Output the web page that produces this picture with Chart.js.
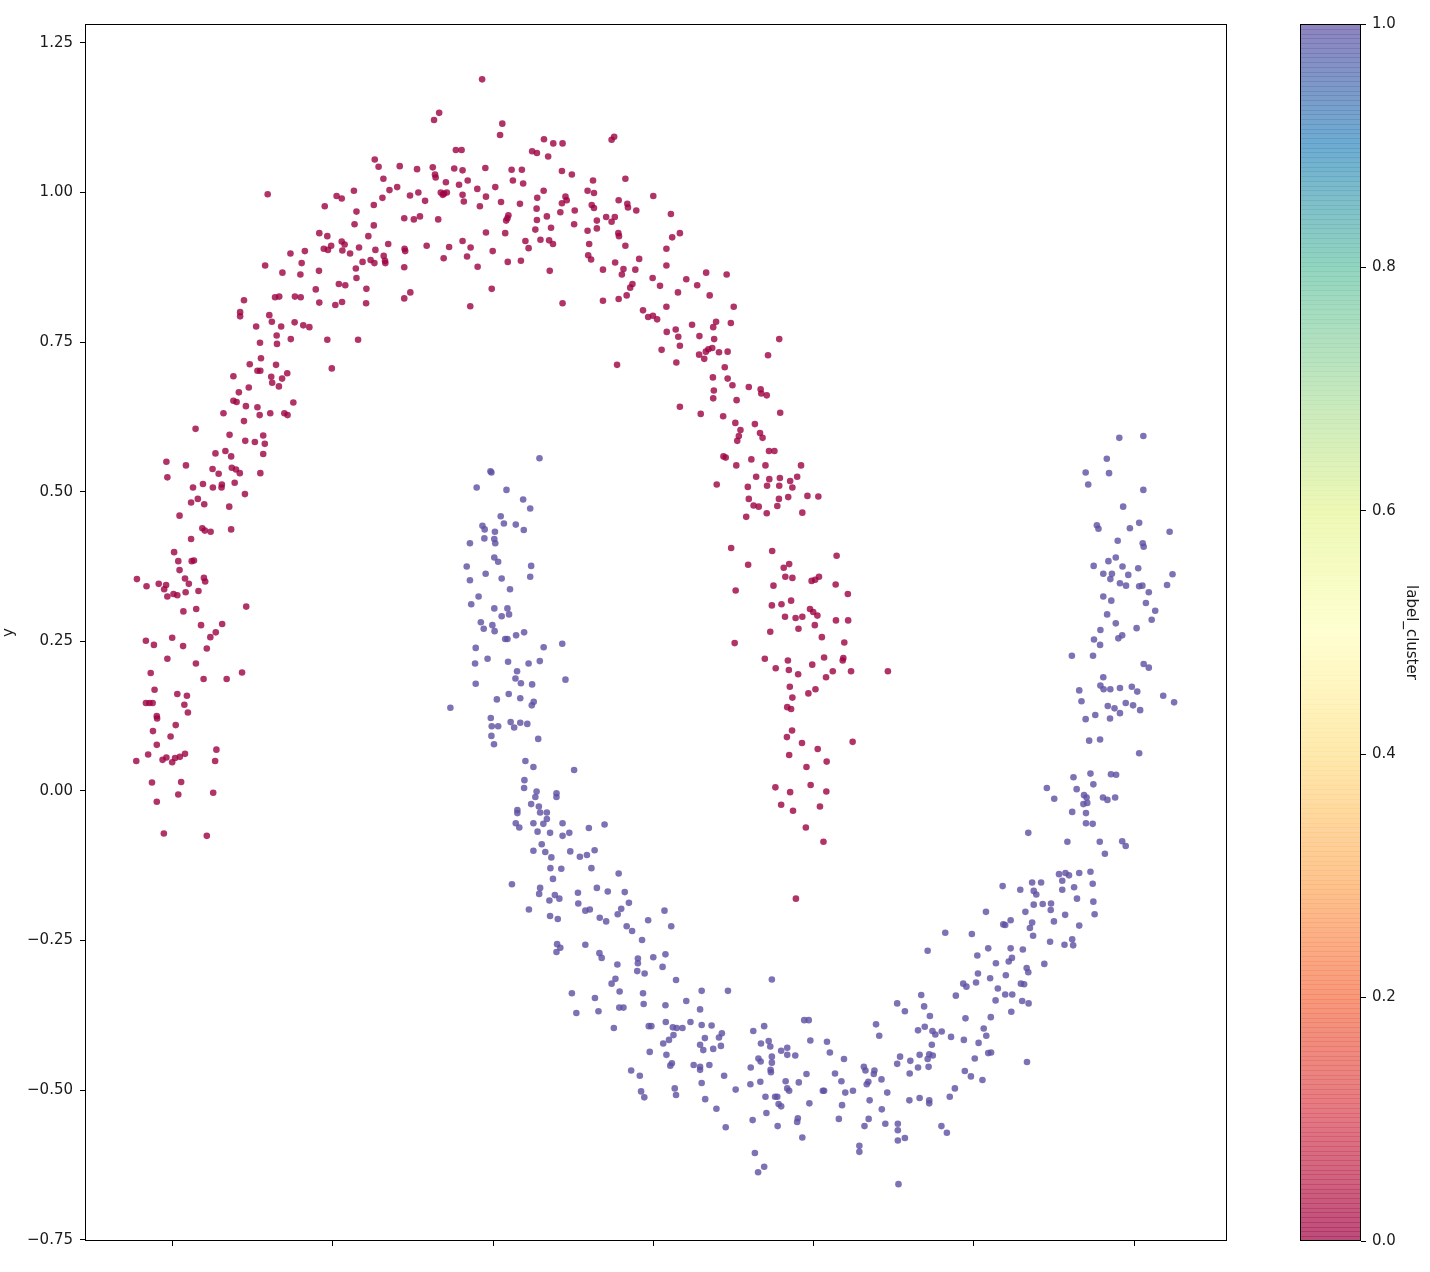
<!DOCTYPE html>
<html><head><meta charset="utf-8">
<script src="https://cdn.jsdelivr.net/npm/chart.js@4.4.1/dist/chart.umd.min.js"></script>
<style>
html,body{margin:0;padding:0;background:#fff;overflow:hidden;}
#wrap{position:relative;width:1430px;height:1272px;}
#main{position:absolute;left:0;top:0;}
#cbar{position:absolute;left:1240px;top:0;}
</style></head><body>
<div id="wrap"><canvas id="main" width="1430" height="1272"></canvas><canvas id="cbar" width="190" height="1272"></canvas></div>
<script>
// ---- data ----
const clusterLabels = [0, 1];
const cluster0Points = [
[-0.810,0.652],[-0.800,0.650],[-0.771,0.643],[-0.735,0.641],[-0.623,0.649],[-0.841,0.631],[-0.728,0.628],[-0.695,0.631],[-0.651,0.631],[-0.641,0.628],[-0.777,0.618],[-0.928,0.605],[-0.822,0.595],[-0.717,0.594],[-0.773,0.585],[-0.743,0.583],[-0.712,0.580],[-0.717,0.563],[-0.866,0.564],[-0.835,0.568],[-0.817,0.559],[-1.019,0.550],[-0.958,0.544],[-0.875,0.538],[-0.856,0.530],[-0.815,0.540],[-0.802,0.537],[-0.790,0.531],[-0.726,0.531],[-1.016,0.524],[-0.936,0.507],[-0.905,0.513],[-0.874,0.507],[-0.846,0.512],[-0.847,0.507],[-0.806,0.515],[-0.774,0.496],[-0.942,0.482],[-0.921,0.488],[-0.901,0.479],[-0.823,0.475],[-0.978,0.460],[-0.907,0.439],[-0.899,0.435],[-0.881,0.433],[-0.817,0.437],[-0.942,0.421],[-0.995,0.399],[-0.982,0.384],[-0.940,0.384],[-0.933,0.385],[-0.978,0.369],[-1.111,0.354],[-1.081,0.342],[-1.043,0.346],[-1.020,0.344],[-1.026,0.337],[-1.016,0.325],[-0.997,0.329],[-0.985,0.327],[-0.961,0.355],[-0.949,0.346],[-0.959,0.332],[-0.919,0.334],[-0.902,0.356],[-0.898,0.350],[-0.770,0.308],[-0.966,0.300],[-0.926,0.304],[-0.911,0.277],[-0.845,0.279],[-0.865,0.265],[-0.882,0.257],[-1.083,0.251],[-1.058,0.244],[-1.001,0.256],[-0.967,0.242],[-0.893,0.238],[-1.016,0.221],[-0.927,0.213],[-1.068,0.197],[-0.903,0.187],[-0.831,0.187],[-0.783,0.198],[-1.056,0.169],[-0.985,0.162],[-0.955,0.159],[-0.963,0.144],[-0.952,0.131],[-1.083,0.147],[-1.072,0.147],[-1.062,0.147],[-1.049,0.125],[-1.048,0.121],[-0.990,0.110],[-1.061,0.100],[-1.006,0.091],[-1.049,0.077],[-0.863,0.069],[-1.076,0.061],[-1.113,0.050],[-1.031,0.052],[-1.019,0.056],[-1.001,0.048],[-0.992,0.055],[-0.977,0.057],[-0.961,0.062],[-0.867,0.050],[-1.064,0.014],[-0.973,0.015],[-0.982,-0.006],[-0.873,-0.003],[-1.049,-0.018],[-1.027,-0.071],[-0.893,-0.075],
[-0.793,0.666],[-0.369,1.055],[-0.357,1.043],[-0.291,1.044],[-0.237,1.039],[-0.342,1.023],[-0.703,0.997],[-0.488,0.994],[-0.472,0.990],[-0.434,1.003],[-0.323,1.004],[-0.299,1.009],[-0.259,0.995],[-0.233,1.000],[-0.345,0.991],[-0.525,0.977],[-0.426,0.968],[-0.372,0.979],[-0.277,0.957],[-0.247,0.955],[-0.228,0.960],[-0.432,0.947],[-0.372,0.945],[-0.542,0.932],[-0.517,0.927],[-0.472,0.918],[-0.463,0.913],[-0.389,0.927],[-0.327,0.914],[-0.505,0.911],[-0.528,0.906],[-0.515,0.904],[-0.470,0.903],[-0.446,0.898],[-0.418,0.908],[-0.367,0.904],[-0.341,0.894],[-0.337,0.886],[-0.336,0.882],[-0.276,0.906],[-0.274,0.902],[-0.632,0.898],[-0.587,0.902],[-0.597,0.882],[-0.711,0.878],[-0.657,0.866],[-0.601,0.863],[-0.543,0.869],[-0.407,0.884],[-0.382,0.887],[-0.370,0.882],[-0.277,0.875],[-0.428,0.873],[-0.426,0.857],[-0.481,0.847],[-0.461,0.845],[-0.553,0.838],[-0.395,0.839],[-0.258,0.833],[-0.277,0.823],[-0.777,0.820],[-0.680,0.825],[-0.667,0.826],[-0.618,0.826],[-0.600,0.825],[-0.542,0.816],[-0.492,0.812],[-0.471,0.817],[-0.396,0.815],[-0.789,0.800],[-0.789,0.793],[-0.698,0.795],[-0.690,0.784],[-0.739,0.776],[-0.661,0.776],[-0.619,0.783],[-0.592,0.778],[-0.573,0.775],[-0.675,0.761],[-0.727,0.749],[-0.674,0.747],[-0.631,0.755],[-0.517,0.754],[-0.421,0.754],[-0.724,0.723],[-0.759,0.713],[-0.677,0.712],[-0.735,0.702],[-0.726,0.702],[-0.503,0.706],[-0.810,0.693],[-0.692,0.692],[-0.689,0.682],[-0.658,0.689],[-0.642,0.698],[-0.668,0.676],[-0.762,0.674],
[-0.034,1.189],[-0.168,1.133],[-0.184,1.121],[0.029,1.115],[0.022,1.096],[0.370,1.088],[0.378,1.093],[0.159,1.089],[0.188,1.082],[0.217,1.082],[0.122,1.069],[0.137,1.066],[0.172,1.060],[-0.116,1.071],[-0.098,1.071],[-0.188,1.042],[-0.181,1.030],[-0.179,1.025],[-0.121,1.040],[-0.095,1.037],[-0.024,1.041],[0.058,1.038],[0.090,1.038],[0.215,1.036],[0.246,1.030],[0.312,1.020],[0.413,1.023],[-0.147,1.017],[-0.106,1.013],[-0.079,1.020],[-0.049,1.006],[0.007,1.009],[0.062,1.020],[0.094,1.015],[-0.212,0.986],[-0.163,1.000],[-0.153,0.998],[-0.144,1.000],[-0.157,0.996],[-0.095,0.996],[-0.091,0.985],[-0.022,0.993],[-0.041,0.977],[0.025,0.984],[0.084,0.981],[0.138,0.991],[0.158,1.003],[0.226,0.993],[0.230,0.987],[0.215,0.982],[0.295,1.003],[0.315,0.999],[0.392,0.987],[0.500,0.994],[0.136,0.973],[0.255,0.970],[0.210,0.967],[0.308,0.979],[0.315,0.974],[0.419,0.981],[0.421,0.975],[0.447,0.970],[0.555,0.964],[-0.171,0.955],[0.048,0.962],[0.041,0.953],[0.045,0.957],[0.137,0.954],[0.168,0.960],[0.253,0.947],[0.324,0.953],[0.353,0.959],[0.370,0.951],[0.380,0.959],[0.132,0.938],[0.181,0.941],[0.295,0.936],[0.324,0.940],[0.391,0.932],[0.393,0.927],[0.559,0.925],[-0.022,0.933],[0.038,0.932],[-0.207,0.911],[-0.137,0.909],[-0.095,0.919],[-0.070,0.908],[-0.001,0.902],[-0.081,0.893],[-0.154,0.890],[-0.048,0.876],[0.046,0.884],[0.087,0.886],[0.101,0.919],[0.111,0.907],[0.148,0.921],[0.175,0.920],[0.187,0.914],[0.300,0.914],[0.413,0.911],[0.541,0.906],[0.297,0.895],[0.306,0.888],[0.381,0.883],[0.456,0.889],[0.177,0.869],[0.343,0.871],[0.407,0.872],[0.402,0.863],[0.444,0.871],[0.541,0.878],[0.498,0.857],[0.521,0.844],[-0.004,0.839],[-0.071,0.810],[0.217,0.815],[0.343,0.819],[0.392,0.822],[0.417,0.828],[0.428,0.841],[0.435,0.847],[0.468,0.803],[0.484,0.792],[0.499,0.794],[0.512,0.788],[0.541,0.809],[0.577,0.833],[0.542,0.767],[0.570,0.771],[0.578,0.759],[0.526,0.737],[0.572,0.716],[0.387,0.712],[0.583,0.932],
[0.665,0.866],[0.729,0.863],[0.603,0.855],[0.637,0.845],[0.676,0.828],[0.751,0.809],[0.621,0.779],[0.687,0.775],[0.696,0.784],[0.742,0.782],[0.644,0.760],[0.690,0.755],[0.893,0.755],[0.583,0.744],[0.643,0.729],[0.659,0.722],[0.664,0.734],[0.672,0.738],[0.684,0.740],[0.705,0.733],[0.732,0.734],[0.858,0.728],[0.723,0.708],[0.686,0.691],[0.732,0.689],[0.747,0.678],[0.798,0.675],[0.689,0.669],[0.687,0.656],[0.760,0.653],[0.835,0.671],[0.837,0.664],[0.854,0.661],[0.583,0.642],[0.648,0.630],[0.718,0.626],[0.896,0.632],[0.756,0.615],[0.817,0.613],[0.772,0.603],[0.833,0.598],[0.767,0.593],[0.841,0.590],[0.762,0.585],[0.861,0.568],[0.878,0.568],[0.719,0.559],[0.726,0.557],[0.806,0.554],[0.759,0.544],[0.850,0.544],[0.961,0.544],[0.698,0.512],[0.821,0.525],[0.862,0.521],[0.895,0.523],[0.927,0.518],[0.949,0.525],[0.795,0.508],[0.855,0.510],[0.893,0.510],[0.934,0.507],[0.798,0.488],[0.892,0.488],[0.921,0.491],[0.981,0.493],[1.015,0.492],[0.813,0.477],[0.829,0.475],[0.887,0.476],[0.854,0.464],[0.965,0.465],[0.790,0.458],[0.743,0.406],[0.871,0.401],[1.072,0.393],
[0.796,0.378],[0.907,0.373],[0.924,0.379],[0.912,0.358],[0.934,0.356],[0.994,0.351],[1.005,0.353],[1.017,0.358],[0.757,0.335],[0.875,0.343],[1.069,0.345],[1.107,0.329],[0.870,0.310],[0.900,0.312],[0.930,0.318],[0.989,0.304],[0.999,0.299],[1.012,0.293],[0.911,0.291],[0.944,0.289],[0.965,0.291],[1.070,0.285],[1.108,0.285],[0.865,0.266],[0.953,0.271],[1.004,0.277],[1.026,0.257],[0.754,0.247],[1.096,0.248],[0.848,0.221],[0.920,0.218],[0.882,0.205],[0.923,0.202],[0.952,0.195],[0.996,0.211],[1.033,0.223],[1.039,0.190],[1.060,0.200],[1.091,0.218],[1.093,0.222],[1.117,0.200],[1.232,0.200],[0.926,0.174],[0.934,0.156],[0.984,0.163],[1.006,0.170],[0.918,0.140],[0.930,0.137],[0.933,0.101],[0.917,0.090],[0.964,0.080],[1.013,0.070],[1.122,0.082],[0.924,0.060],[1.041,0.049],[0.978,0.040],[0.881,0.006],[0.927,-0.002],[0.991,0.010],[1.040,-0.001],[0.899,-0.023],[0.936,-0.033],[1.020,-0.026],[0.976,-0.061],[1.031,-0.085],[0.945,-0.180]
];
const cluster1Points = [
[0.145,0.556],[-0.008,0.534],[-0.005,0.532],[-0.051,0.507],[0.042,0.503],[0.094,0.487],[0.116,0.472],[0.024,0.459],[0.034,0.447],[0.071,0.445],[0.096,0.436],[-0.033,0.443],[-0.026,0.437],[0.006,0.433],[-0.072,0.414],[-0.027,0.422],[0.004,0.421],[0.007,0.414],[0.004,0.390],[0.016,0.383],[-0.082,0.375],[0.119,0.376],[-0.023,0.363],[0.027,0.355],[0.116,0.358],[-0.072,0.352],[0.053,0.337],[-0.045,0.325],[-0.068,0.312],[0.004,0.305],[0.045,0.305],[0.050,0.295],[0.027,0.292],[-0.038,0.282],[-0.029,0.271],[-0.002,0.277],[0.005,0.267],[0.038,0.254],[0.045,0.254],[0.072,0.260],[0.097,0.265],[-0.054,0.239],[0.158,0.240],[0.216,0.246],[-0.056,0.213],[-0.017,0.221],[0.047,0.216],[0.111,0.213],[0.146,0.217],[0.075,0.200],[0.070,0.188],[0.087,0.180],[0.122,0.178],[0.226,0.186],[-0.054,0.179],[0.012,0.153],[0.049,0.162],[0.085,0.155],[0.127,0.149],[0.121,0.143],[-0.133,0.139],[-0.007,0.122],[-0.004,0.108],[0.016,0.108],[0.055,0.115],[0.066,0.106],[0.085,0.114],[0.107,0.112],[-0.005,0.092],[0.003,0.078],[0.141,0.087],[0.101,0.050],[0.126,0.040],[0.253,0.035],[0.098,0.018],[0.097,0.005],[0.136,-0.001],[0.132,-0.010],[0.198,-0.004],[0.198,-0.010],
[0.119,-0.022],[0.143,-0.026],[0.147,-0.036],[0.168,-0.036],[0.076,-0.032],[0.076,-0.037],[0.071,-0.054],[0.082,-0.061],[0.126,-0.054],[0.157,-0.055],[0.168,-0.047],[0.139,-0.068],[0.178,-0.070],[0.217,-0.054],[0.217,-0.075],[0.238,-0.070],[0.299,-0.062],[0.348,-0.056],[0.152,-0.089],[0.126,-0.100],[0.163,-0.102],[0.182,-0.111],[0.241,-0.101],[0.271,-0.110],[0.293,-0.107],[0.317,-0.099],[0.179,-0.129],[0.213,-0.130],[0.307,-0.129],[0.392,-0.138],[0.187,-0.147],[0.059,-0.156],[0.147,-0.162],[0.144,-0.172],[0.176,-0.183],[0.193,-0.174],[0.207,-0.180],[0.265,-0.170],[0.266,-0.188],[0.288,-0.200],[0.302,-0.198],[0.324,-0.162],[0.358,-0.168],[0.411,-0.169],[0.424,-0.187],[0.400,-0.197],[0.389,-0.206],[0.112,-0.198],[0.178,-0.209],[0.202,-0.214],[0.333,-0.212],[0.353,-0.218],[0.484,-0.216],[0.535,-0.200],[0.556,-0.226],[0.417,-0.226],[0.434,-0.234],[0.465,-0.249],[0.200,-0.256],[0.210,-0.262],[0.198,-0.269],[0.288,-0.257],[0.332,-0.271],[0.339,-0.279],[0.388,-0.290],[0.452,-0.280],[0.452,-0.288],[0.450,-0.301],[0.473,-0.305],[0.500,-0.278],[0.538,-0.273],[0.529,-0.294],[0.571,-0.316],[0.382,-0.314],[0.370,-0.322],[0.246,-0.338],[0.395,-0.335],[0.468,-0.338],[0.318,-0.346],[0.260,-0.371],[0.329,-0.368],[0.394,-0.362],[0.407,-0.362],[0.470,-0.356],[0.538,-0.358],[0.603,-0.351],[0.377,-0.396],[0.486,-0.393],[0.494,-0.393],[0.539,-0.386],[0.561,-0.395],[0.573,-0.396],[0.591,-0.396],[0.616,-0.386],[0.563,-0.408],[0.549,-0.416],[0.531,-0.422],[0.489,-0.436],[0.541,-0.441],[0.558,-0.455],[0.553,-0.459],[0.626,-0.458],[0.431,-0.467],[0.458,-0.476],[0.462,-0.502],[0.472,-0.512],[0.567,-0.497],[0.571,-0.508],
[0.870,-0.315],[0.651,-0.334],[0.733,-0.334],[0.646,-0.365],[0.651,-0.391],[0.682,-0.392],[0.646,-0.424],[0.656,-0.433],[0.661,-0.413],[0.687,-0.431],[0.705,-0.412],[0.714,-0.405],[0.711,-0.426],[0.646,-0.461],[0.646,-0.466],[0.675,-0.458],[0.651,-0.488],[0.721,-0.476],[0.662,-0.515],[0.697,-0.531],[0.726,-0.562],[0.757,-0.499],[0.812,-0.401],[0.846,-0.393],[0.836,-0.422],[0.860,-0.418],[0.865,-0.427],[0.828,-0.447],[0.835,-0.452],[0.870,-0.444],[0.870,-0.454],[0.866,-0.466],[0.867,-0.470],[0.804,-0.462],[0.803,-0.490],[0.834,-0.486],[0.850,-0.511],[0.880,-0.511],[0.887,-0.511],[0.891,-0.523],[0.899,-0.527],[0.853,-0.538],[0.810,-0.550],[0.888,-0.560],[0.899,-0.434],[0.918,-0.429],[0.918,-0.441],[0.943,-0.442],[0.913,-0.485],[0.918,-0.497],[0.924,-0.501],[0.954,-0.487],[0.978,-0.473],[0.971,-0.383],[0.985,-0.383],[0.990,-0.417],[0.987,-0.522],[0.951,-0.547],[0.949,-0.553],[0.965,-0.579],[0.817,-0.605],[0.846,-0.628],[0.827,-0.637],[1.029,-0.501],[1.033,-0.501],[1.042,-0.419],[1.051,-0.437],[1.095,-0.448],[1.067,-0.472],[1.087,-0.485],[1.099,-0.504],[1.123,-0.501],[1.089,-0.525],[1.079,-0.548],[1.157,-0.461],[1.162,-0.467],[1.190,-0.467],[1.188,-0.473],[1.212,-0.482],[1.171,-0.486],[1.166,-0.490],[1.175,-0.517],[1.230,-0.504],[1.213,-0.532],[1.172,-0.548],[1.159,-0.560],[1.224,-0.556],[1.143,-0.593],[1.143,-0.603],[1.195,-0.390],[1.205,-0.409],[1.261,-0.355],[1.261,-0.456],[1.270,-0.444],[1.263,-0.556],[1.263,-0.567],[1.263,-0.584],[1.265,-0.657],
[1.590,-0.159],[1.645,-0.165],[1.682,-0.153],[1.687,-0.167],[1.695,-0.173],[1.710,-0.153],[1.776,-0.150],[1.776,-0.165],[1.813,-0.161],[1.871,-0.155],[1.538,-0.202],[1.661,-0.202],[1.687,-0.190],[1.715,-0.189],[1.741,-0.188],[1.740,-0.199],[1.785,-0.207],[1.822,-0.180],[1.873,-0.185],[1.877,-0.206],[1.592,-0.223],[1.598,-0.224],[1.615,-0.216],[1.682,-0.220],[1.675,-0.229],[1.685,-0.242],[1.750,-0.218],[1.829,-0.225],[1.411,-0.237],[1.494,-0.239],[1.738,-0.252],[1.783,-0.257],[1.807,-0.248],[1.810,-0.258],[1.356,-0.267],[1.545,-0.263],[1.511,-0.275],[1.615,-0.263],[1.653,-0.265],[1.609,-0.285],[1.619,-0.279],[1.569,-0.288],[1.720,-0.289],[1.665,-0.296],[1.670,-0.303],[1.513,-0.305],[1.551,-0.313],[1.600,-0.308],[1.467,-0.322],[1.477,-0.327],[1.507,-0.320],[1.647,-0.322],[1.657,-0.323],[1.575,-0.330],[1.444,-0.342],[1.598,-0.340],[1.620,-0.340],[1.568,-0.350],[1.651,-0.351],[1.671,-0.355],[1.336,-0.341],[1.285,-0.368],[1.345,-0.360],[1.363,-0.376],[1.617,-0.369],[1.474,-0.380],[1.553,-0.378],[1.531,-0.397],[1.539,-0.409],[1.326,-0.400],[1.347,-0.394],[1.371,-0.401],[1.380,-0.407],[1.400,-0.402],[1.429,-0.411],[1.469,-0.416],[1.515,-0.421],[1.369,-0.424],[1.361,-0.440],[1.372,-0.442],[1.356,-0.448],[1.331,-0.441],[1.302,-0.451],[1.326,-0.462],[1.359,-0.461],[1.300,-0.472],[1.503,-0.447],[1.545,-0.438],[1.554,-0.437],[1.666,-0.453],[1.472,-0.468],[1.491,-0.477],[1.527,-0.483],[1.441,-0.497],[1.425,-0.511],[1.299,-0.517],[1.331,-0.513],[1.361,-0.517],[1.361,-0.522],[1.399,-0.560],[1.416,-0.571],[1.285,-0.580],
[1.860,0.084],[1.894,0.086],[2.016,0.063],[1.811,0.023],[1.864,0.029],[1.928,0.028],[1.944,0.027],[1.873,0.011],[1.728,0.005],[1.821,0.003],[1.844,-0.007],[1.852,-0.011],[1.751,-0.013],[1.903,-0.011],[1.917,-0.015],[1.941,-0.011],[1.842,-0.022],[1.854,-0.020],[1.807,-0.035],[1.850,-0.037],[1.850,-0.054],[1.871,-0.055],[1.670,-0.070],[1.792,-0.085],[1.893,-0.085],[1.963,-0.084],[1.974,-0.092],[1.909,-0.105],[1.766,-0.139],[1.786,-0.137],[1.797,-0.141],[1.829,-0.137],[1.864,-0.135],
[1.954,0.590],[2.029,0.593],[1.915,0.555],[1.849,0.532],[1.922,0.531],[1.857,0.512],[2.029,0.503],[1.966,0.475],[1.884,0.444],[1.889,0.438],[1.987,0.439],[2.016,0.448],[2.111,0.433],[1.949,0.418],[2.027,0.414],[2.030,0.408],[1.874,0.376],[1.920,0.384],[1.943,0.390],[1.964,0.375],[2.013,0.372],[1.904,0.363],[1.931,0.363],[1.926,0.354],[1.982,0.361],[2.120,0.362],[1.956,0.347],[1.975,0.343],[2.016,0.342],[2.026,0.343],[2.046,0.332],[2.103,0.344],[1.904,0.325],[1.929,0.318],[2.037,0.314],[2.066,0.301],[1.916,0.295],[1.943,0.280],[2.055,0.286],[1.895,0.269],[2.008,0.272],[1.875,0.253],[1.894,0.244],[1.951,0.255],[1.963,0.260],[1.806,0.226],[1.872,0.226],[2.030,0.212],[2.046,0.206],[1.904,0.190],[1.829,0.168],[1.836,0.150],[1.895,0.176],[1.905,0.170],[1.926,0.170],[1.956,0.172],[1.993,0.174],[2.010,0.166],[2.091,0.159],[2.125,0.148],[1.918,0.142],[1.939,0.138],[1.974,0.147],[1.997,0.143],[2.019,0.135],[1.879,0.127],[1.925,0.121],[1.849,0.120],[1.956,0.130]
];
const xTicks = [-1, -0.5, 0, 0.5, 1, 1.5, 2];
const yTicks = [-0.75, -0.5, -0.25, 0, 0.25, 0.5, 0.75, 1.0, 1.25];
const colorbarTicks = [0, 0.2, 0.4, 0.6, 0.8, 1.0];
const xLimits = [-1.273, 2.290];
const yLimits = [-0.752, 1.2815];
const spectralStops = ['#9e0142','#d53e4f','#f46d43','#fdae61','#fee08b','#ffffbf','#e6f598','#abdda4','#66c2a5','#3288bd','#5e4fa2'];

// ---- styling ----
const pointAlpha = 0.8, barAlpha = 0.7;
Chart.defaults.font.family = "'DejaVu Sans', sans-serif";
Chart.defaults.font.size = 15;
Chart.defaults.color = '#1a1a1a';

function hexA(h, a){ const n=parseInt(h.slice(1),16); return `rgba(${(n>>16)&255},${(n>>8)&255},${n&255},${a})`; }
function cmap(t, a){ // Spectral colour at t in [0,1]
  const s = t*(spectralStops.length-1), i = Math.min(Math.floor(s), spectralStops.length-2), f = s-i;
  const p = parseInt(spectralStops[i].slice(1),16), q = parseInt(spectralStops[i+1].slice(1),16);
  const c = k => Math.round(((p>>k)&255)*(1-f) + ((q>>k)&255)*f);
  return `rgba(${c(16)},${c(8)},${c(0)},${a})`;
}
const fmtY = v => (v < 0 ? '\u2212' + Math.abs(v).toFixed(2) : v.toFixed(2));
const toXY = arr => arr.map(p => ({x:p[0], y:p[1]}));

const frame = { id:'frame', afterDraw(chart){
  const a = chart.chartArea, c = chart.ctx; c.save();
  c.strokeStyle = '#000'; c.lineWidth = 1;
  c.strokeRect(a.left+0.5, a.top+0.5, a.right-a.left-1, a.bottom-a.top-1);
  c.restore(); } };

new Chart(document.getElementById('main'), {
  type:'scatter',
  data:{ datasets: clusterLabels.map((lab, i) => ({
    label: String(lab),
    data: toXY(i === 0 ? cluster0Points : cluster1Points),
    backgroundColor: cmap(lab, pointAlpha),
    pointRadius: 3.3, borderWidth: 0, pointHoverRadius: 3.3
  })) },
  options:{
    responsive:false, animation:false, devicePixelRatio:1,
    layout:{ padding:{ left:0, top:24, right:203, bottom:25 } },
    plugins:{ legend:{display:false}, tooltip:{enabled:false} },
    scales:{
      x:{ type:'linear', min:xLimits[0], max:xLimits[1],
          afterBuildTicks: s => { s.ticks = xTicks.map(v => ({value:v})); },
          afterFit: s => { s.height = 6; },
          grid:{ drawOnChartArea:false, tickLength:5, color:'#000', lineWidth:1 },
          border:{ display:false },
          ticks:{ callback: () => '' } },
      y:{ type:'linear', min:yLimits[0], max:yLimits[1],
          afterBuildTicks: s => { s.ticks = yTicks.map(v => ({value:v})); },
          afterFit: s => { s.width = 85; },
          grid:{ drawOnChartArea:false, tickLength:5, color:'#000', lineWidth:1 },
          border:{ display:false },
          ticks:{ padding:7, callback: v => fmtY(v) },
          title:{ display:true, text:'y', padding:0 } }
    }
  },
  plugins:[frame]
});

function cbGradient(chart, a){
  const ca = chart.chartArea; if(!ca) return null;
  const g = chart.ctx.createLinearGradient(0, ca.bottom, 0, ca.top);
  for(let k=0;k<=40;k++){ g.addColorStop(k/40, cmap(k/40, a)); }
  return g;
}
const cbStripes = { id:'cbStripes', afterDatasetsDraw(chart){
  const a = chart.chartArea, c = chart.ctx, n = 256, h = (a.bottom-a.top)/n;
  c.save(); c.fillStyle = cbGradient(chart, 0.35);
  for(let k=1;k<n;k++){ c.fillRect(a.left, Math.round(a.bottom - k*h), a.right-a.left, 1); }
  c.restore(); } };

new Chart(document.getElementById('cbar'), {
  type:'bar',
  data:{ labels:['label_cluster'], datasets:[{
    data:[[clusterLabels[0], clusterLabels[1]]],
    backgroundColor: ctx => cbGradient(ctx.chart, barAlpha),
    borderWidth:0, barPercentage:1, categoryPercentage:1 }] },
  options:{
    responsive:false, animation:false, devicePixelRatio:1,
    layout:{ padding:{ left:60, top:24, right:10, bottom:31 } },
    plugins:{ legend:{display:false}, tooltip:{enabled:false} },
    scales:{
      x:{ display:false },
      y:{ position:'right', min:0, max:1,
          afterBuildTicks: s => { s.ticks = colorbarTicks.map(v => ({value:v})); },
          afterFit: s => { s.width = 59; },
          grid:{ drawOnChartArea:false, tickLength:5, color:'#000', lineWidth:1 },
          border:{ display:false },
          ticks:{ padding:6, callback: v => v.toFixed(1) },
          title:{ display:true, text:'label_cluster', padding:0 } }
    }
  },
  plugins:[cbStripes, frame]
});
</script>
</body></html>
